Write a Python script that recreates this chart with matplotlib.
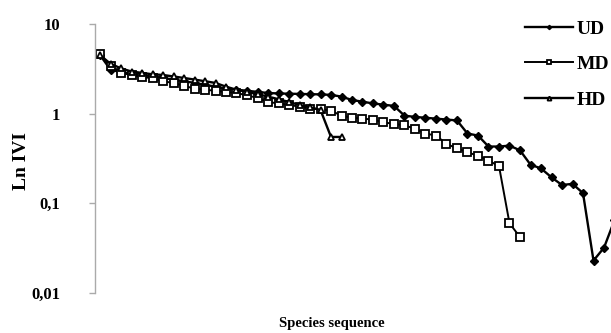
import matplotlib
matplotlib.use("Agg")
import matplotlib.pyplot as plt
import numpy as np

plt.rcParams['font.family'] = ['Liberation Serif', 'DejaVu Serif']
plt.rcParams['font.weight'] = 'bold'

series_names = ["UD", "MD", "HD"]

ud_values = [4.5, 3.1, 2.9, 2.8, 2.7, 2.6, 2.5, 2.4, 2.3, 2.2,
             2.1, 2.0, 1.9, 1.85, 1.8, 1.75, 1.7, 1.68, 1.67, 1.66,
             1.65, 1.64, 1.62, 1.55, 1.42, 1.36, 1.3, 1.26, 1.22, 0.95,
             0.92, 0.9, 0.88, 0.86, 0.84, 0.6, 0.57, 0.43, 0.43, 0.44,
             0.39, 0.27, 0.245, 0.195, 0.16, 0.165, 0.13, 0.023, 0.032, 0.065]
md_values = [4.6, 3.4, 2.85, 2.7, 2.55, 2.5, 2.3, 2.2, 2.05, 1.9,
             1.85, 1.8, 1.75, 1.7, 1.6, 1.5, 1.35, 1.3, 1.25, 1.2,
             1.14, 1.12, 1.08, 0.95, 0.9, 0.88, 0.86, 0.8, 0.77, 0.74,
             0.68, 0.6, 0.57, 0.46, 0.41, 0.37, 0.34, 0.3, 0.26, 0.06,
             0.042]
hd_values = [4.5, 3.6, 3.2, 2.95, 2.85, 2.75, 2.7, 2.6, 2.5, 2.4,
             2.3, 2.2, 2.0, 1.85, 1.75, 1.65, 1.55, 1.45, 1.35, 1.25,
             1.18, 1.1, 0.55, 0.55]

y_ticks = [0.01, 0.1, 1, 10]
y_ticklabels = ["0,01", "0,1", "1", "10"]

W, H = 611, 333
fig = plt.figure(figsize=(W / 100, H / 100), dpi=100)

left_px, right_px, top_px, bottom_px = 95, 100 + 10.5 * 60, 24, 293
ax = fig.add_axes([left_px / W, 1 - bottom_px / H,
                   (right_px - left_px) / W, (bottom_px - top_px) / H])

x_min = -(100 - left_px) / 10.5
ax.set_xlim(x_min, 60)
ax.set_yscale('log')
ax.set_ylim(0.01, 10)

ax.plot(np.arange(len(ud_values)), ud_values, color='black', lw=1.7,
        marker='D', markersize=3.6, markerfacecolor='black', label="UD")
ax.plot(np.arange(len(md_values)), md_values, color='black', lw=1.4,
        marker='s', markersize=5.5, markerfacecolor='white', markeredgewidth=1.3, label="MD")
ax.plot(np.arange(len(hd_values)), hd_values, color='black', lw=1.7,
        marker='^', markersize=5, markerfacecolor='white', markeredgewidth=1.3, label="HD")

for s in ['top', 'right', 'bottom']:
    ax.spines[s].set_visible(False)
ax.spines['left'].set_color('#aaaaaa')
ax.spines['left'].set_linewidth(1.0)
ax.set_xticks([])
ax.set_yticks(y_ticks)
ax.set_yticklabels(y_ticklabels, fontsize=12, fontweight='bold')
ax.yaxis.set_minor_locator(matplotlib.ticker.NullLocator())
ax.tick_params(axis='y', direction='out', length=4, color='#aaaaaa', width=1.0, pad=21)

fig.text(21 / W, 1 - 161 / H, "Ln IVI", rotation=90, ha='center', va='center',
         fontsize=14, fontweight='bold')
fig.text(332 / W, 1 - 323 / H, "Species sequence", ha='center', va='center',
         fontsize=10.5, fontweight='bold')

leg = fig.legend(loc='upper left', bbox_to_anchor=(525 / W, 1 - 20 / H),
                 frameon=False, handlelength=2.45, handletextpad=0.2,
                 labelspacing=0.92, borderpad=0, borderaxespad=0, markerscale=0.6,
                 prop={'weight': 'bold', 'size': 14})

fig.savefig("out.png", dpi=100)
